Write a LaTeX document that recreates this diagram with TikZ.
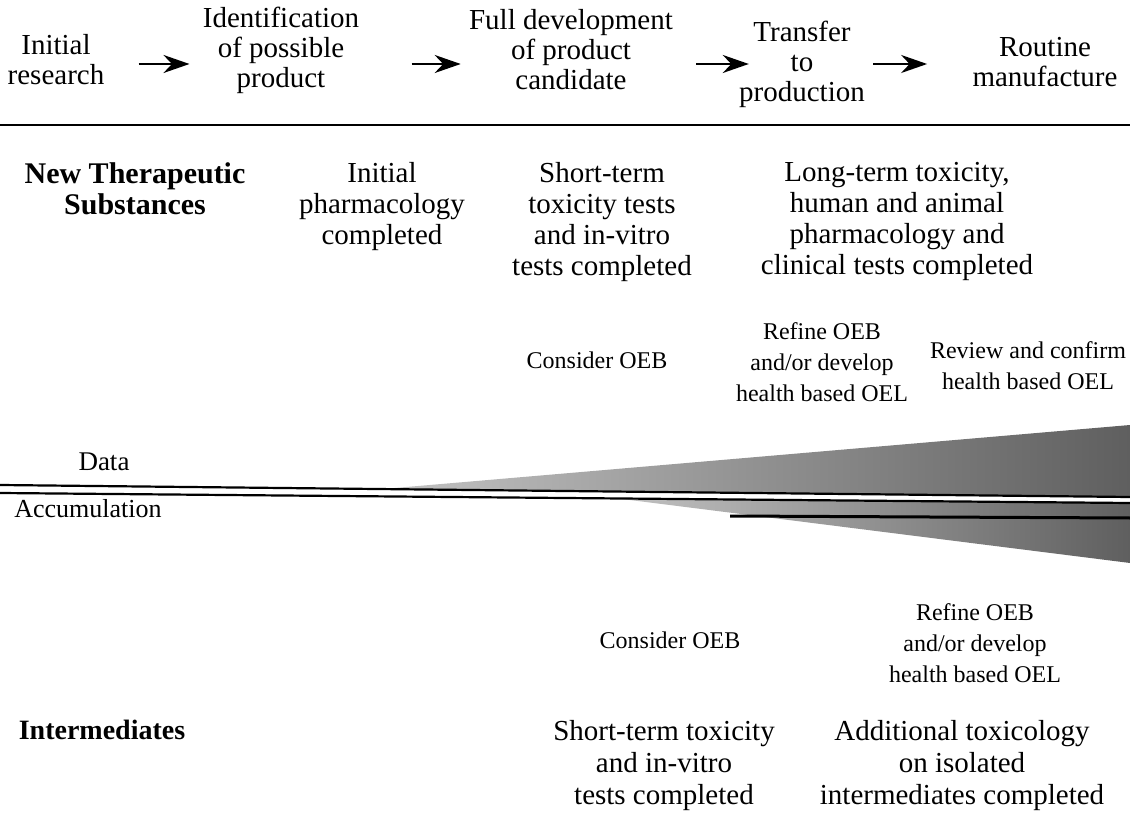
\documentclass[tikz,border=0pt]{standalone}
\usepackage{fontspec}
\setmainfont{Liberation Serif}
\usetikzlibrary{arrows.meta}
\tikzset{every node/.append style={align=center}}
\definecolor{datalight}{RGB}{195,195,195}
\definecolor{datadark}{RGB}{95,95,95}
\tikzset{
  stage/.style={font=\fontsize{14.5}{15}\selectfont, inner sep=0pt},
  result/.style={font=\fontsize{14.5}{15.5}\selectfont, inner sep=0pt, anchor=north},
  group/.style={font=\fontsize{15}{15.5}\selectfont\bfseries, inner sep=0pt, anchor=north},
  limit/.style={font=\fontsize{12}{15.5}\selectfont, inner sep=0pt},
  flow/.style={-{Stealth[length=13pt,width=9pt]}, line width=1.2pt},
}

\begin{document}
\begin{tikzpicture}[x=0.5pt, y=-0.5pt]
  \useasboundingbox (0,0) rectangle (1130,818);

  % === Development stages ===
  \node[stage] (ir) at (56,60) {Initial\\research};
  \node[stage] (ip) at (281,50) {Identification\\of possible\\product};
  \node[stage] (fd) at (571,50) {Full development\\of product\\candidate};
  \node[stage] (tp) at (802,64) {Transfer\\to\\production};
  \node[stage] (rm) at (1045,62) {Routine\\manufacture};
  % Arrows between stages
  \draw[flow, shorten <=17pt, shorten >=6.5pt] (ir.east |- tp) -- (ip.west |- tp);
  \draw[flow, shorten <=26pt, shorten >=4pt] (ip.east |- tp) -- (fd.west |- tp);
  \draw[flow, shorten <=11.5pt, shorten >=-5pt] (fd.east |- tp) -- (tp.west |- tp);
  \draw[flow, shorten <=4pt, shorten >=22.5pt] (tp.east |- tp) -- (rm.west |- tp);

  \draw[line width=1pt] (0,125) -- (1130,125);

  % === NEW THERAPEUTIC SUBSTANCES ===
  \node[group] (nts) at (135,162) {New Therapeutic\\Substances};
  \node[result] (ipc) at (382,162) {Initial\\pharmacology\\completed};
  \node[result] (stt) at (602,162)
    {Short-term\\toxicity tests\\and in-vitro\\tests completed};
  \node[result] (ltt) at (897,162)
    {Long-term toxicity,\\human and animal\\pharmacology and\\clinical tests completed};
  % Exposure limits
  \node[limit] (oebA) at (597,360) {Consider OEB};
  \node[limit] (refA) at (822,362) {Refine OEB\\and/or develop\\health based OEL};
  \node[limit] (revA) at (1028,366) {Review and confirm\\health based OEL};

  % === DATA ACCUMULATION ===
  \node[stage, font=\fontsize{13.5}{15}\selectfont] (data) at (104,462) {Data};
  \node[stage, font=\fontsize{13}{15}\selectfont] (accum) at (88,509) {Accumulation};
  \shade[left color=datalight, right color=datadark]
    (383,489) -- (1130,425) -- (1130,497) -- cycle;
  \shade[left color=datalight, right color=datadark]
    (614,498) -- (1130,503) -- (1130,563) -- cycle;
  \draw[line width=1.1pt] (0,485) -- (1130,497);
  \draw[line width=1.1pt] (0,493) -- (1130,503);
  \draw[line width=1.5pt] (730,516) -- (1130,518);

  % === INTERMEDIATES ===
  \node[limit] (oebB) at (670,640) {Consider OEB};
  \node[limit] (refB) at (975,643) {Refine OEB\\and/or develop\\health based OEL};
  \node[group, font=\fontsize{14}{15.5}\selectfont\bfseries] (intm) at (102,720) {Intermediates};
  \node[result, font=\fontsize{14.5}{16}\selectfont] (sttB) at (664,720)
    {Short-term toxicity\\and in-vitro\\tests completed};
  \node[result, font=\fontsize{14.5}{16}\selectfont] (addB) at (962,720)
    {Additional toxicology\\on isolated\\intermediates completed};

\end{tikzpicture}
\end{document}
